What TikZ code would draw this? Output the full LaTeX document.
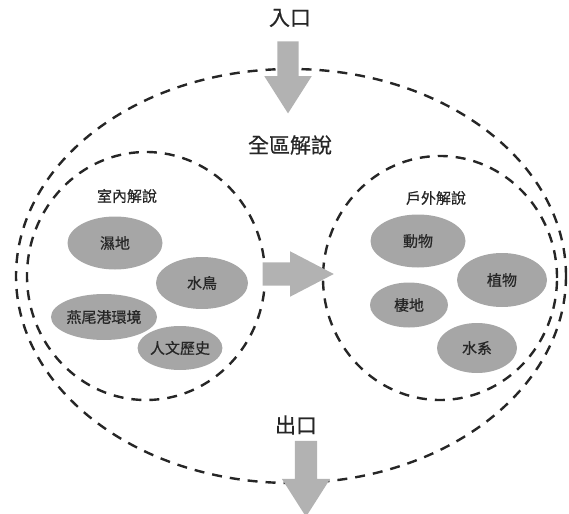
\documentclass[tikz,border=0pt]{standalone}
\usepackage{fontspec}
\newfontfamily\cjk[FakeBold=0.6]{Noto Sans CJK TC}
\usetikzlibrary{shapes.geometric,shapes.arrows}
\usetikzlibrary{positioning}

\begin{document}
\begin{tikzpicture}[x=1pt,y=-1pt,
zone/.style={ellipse, draw=black!85, line width=2.4pt, dash pattern=on 10pt off 8pt, inner sep=0pt},
topic/.style={ellipse, fill=gray!70, inner sep=0pt, font=\cjk\fontsize{15}{15}\selectfont, text=black!85},
title/.style={font=\cjk\fontsize{15}{15}\selectfont, text=black!85},
bigtitle/.style={font=\cjk\fontsize{21}{21}\selectfont, text=black!85},
flow/.style={single arrow, fill=gray!60, draw=none, inner xsep=0pt},
]
\useasboundingbox (0,0) rectangle (569,513);
%Zones
\node[zone, minimum width=550pt, minimum height=414pt] (all) at (291,276) {};
\node[zone, minimum width=238pt, minimum height=248pt] (indoor) at (146,276) {};
\node[zone, minimum width=234pt, minimum height=244pt] (outdoor) at (440,278) {};
%Titles
\node[bigtitle] (entry) at (290,18) {入口};
\node[bigtitle] (whole) at (290,145) {全區解說};
\node[bigtitle] (exit) at (296,425) {出口};
\node[title] (indoortitle) at (127,196) {室內解說};
\node[title] (outdoortitle) at (436,198) {戶外解說};
%Indoor topics
\node[topic, minimum width=95pt, minimum height=53pt] (wetland) at (115,243) {濕地};
\node[topic, minimum width=92pt, minimum height=52pt] (birds) at (202,283) {水鳥};
\node[topic, minimum width=76pt, minimum height=46pt] (harbour) at (104,317) {燕尾港環境};
\node[topic, minimum width=80pt, minimum height=44pt] (history) at (180,348) {人文歷史};
%Outdoor topics
\node[topic, minimum width=95pt, minimum height=53pt] (animals) at (418,241) {動物};
\node[topic, minimum width=90pt, minimum height=54pt] (plants) at (502,280) {植物};
\node[topic, minimum width=78pt, minimum height=45pt] (habitat) at (409,305) {棲地};
\node[topic, minimum width=80pt, minimum height=50pt] (water) at (477,348) {水系};
%Arrows
\node[flow, rotate=-90, minimum height=72pt, inner ysep=10.5pt, single arrow head extend=13pt, single arrow tip angle=65] (inarrow) at (288,69) {};
\node[flow, minimum height=71pt, inner ysep=11.5pt, single arrow head extend=11pt, single arrow tip angle=55] (midarrow) at (287,274) {};
\node[flow, rotate=-90, minimum height=76pt, inner ysep=11pt, single arrow head extend=13pt, single arrow tip angle=65] (outarrow) at (306,470) {};
\end{tikzpicture}
\end{document}
